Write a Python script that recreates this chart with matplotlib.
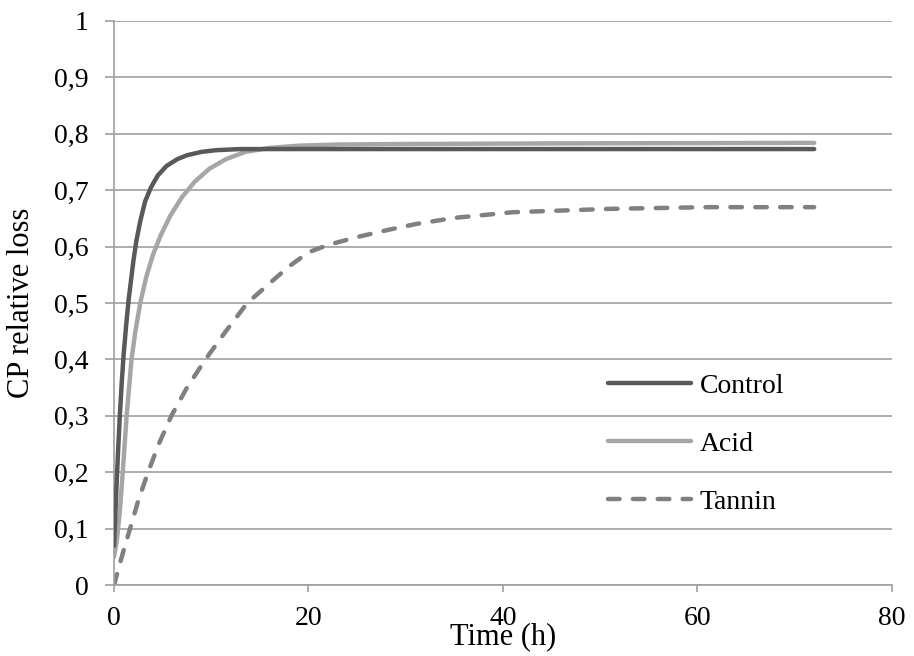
import matplotlib
matplotlib.use("Agg")
import matplotlib.pyplot as plt
from matplotlib.ticker import FuncFormatter, MultipleLocator

plt.rcParams['font.family'] = ['Liberation Serif', 'DejaVu Serif']

# values
control_t = [0, 0.2, 0.4, 0.6, 0.8, 1.0, 1.25, 1.5, 1.75, 2.0, 2.3, 2.7, 3.2, 3.8, 4.5, 5.4, 6.5, 7.5, 9, 10.5, 13, 16, 72]
control_v = [0.07, 0.15, 0.23, 0.3, 0.36, 0.41, 0.46, 0.505, 0.54, 0.575, 0.61, 0.645, 0.68, 0.705, 0.726,
             0.743, 0.755, 0.762, 0.768, 0.771, 0.773, 0.773, 0.773]

acid_t = [0, 0.3, 0.6, 0.9, 1.3, 1.8, 2.2, 2.7, 3.3, 4.0, 4.8, 5.8, 7.0, 8.3, 9.8, 11.5, 13.5, 16, 19, 23, 30, 45, 72]
acid_v = [0.05, 0.08, 0.13, 0.2, 0.3, 0.4, 0.45, 0.5, 0.545, 0.585, 0.62, 0.655, 0.688, 0.715, 0.738, 0.755,
          0.768, 0.775, 0.779, 0.781, 0.782, 0.783, 0.784]

tannin_t = [0, 0.8, 1.65, 2.5, 3.5, 4.6, 5.9, 7.5, 9.4, 11.5, 13.7, 16, 18, 20, 22, 25, 28, 31, 35, 41, 51, 61, 72]
tannin_v = [0, 0.05, 0.1, 0.15, 0.2, 0.25, 0.3, 0.35, 0.4, 0.45, 0.5, 0.535, 0.565, 0.59, 0.603, 0.617, 0.629,
            0.64, 0.651, 0.661, 0.667, 0.67, 0.67]

grid_col = '#a0a0a0'

fig = plt.figure(figsize=(9.14, 6.56), dpi=100)
ax = fig.add_axes([0.1247, 0.108, 0.8512, 0.860])

ax.plot(control_t, control_v, color='#595959', lw=3.2, solid_capstyle='round', label='Control', zorder=3)
ax.plot(acid_t, acid_v, color='#a6a6a6', lw=3.2, solid_capstyle='round', label='Acid', zorder=2)
ax.plot(tannin_t, tannin_v, color='#808080', lw=3.2, dashes=(2.6, 3.0), dash_capstyle='round',
        label='Tannin', zorder=2)

ax.set_xlim(0, 80)
ax.set_ylim(0, 1)
ax.xaxis.set_major_locator(MultipleLocator(20))
ax.yaxis.set_major_locator(MultipleLocator(0.1))
ax.yaxis.set_major_formatter(FuncFormatter(lambda v, p: f"{v:.1f}".rstrip('0').rstrip('.').replace('.', ',')))

ax.grid(axis='y', color=grid_col, lw=1.2)
ax.set_axisbelow(True)
for s in ['top', 'right']:
    ax.spines[s].set_visible(False)
for s in ['left', 'bottom']:
    ax.spines[s].set_color(grid_col)
    ax.spines[s].set_linewidth(1.2)

ax.tick_params(axis='x', direction='out', length=5, width=1.2, color=grid_col, labelsize=20, pad=10)
ax.tick_params(axis='y', direction='out', length=6.5, width=1.2, color=grid_col, labelsize=20, pad=12)

ax.set_xlabel('Time (h)', fontsize=22)
ax.set_ylabel('CP relative loss', fontsize=22)
ax.xaxis.set_label_coords(0.5, -0.066)
ax.yaxis.set_label_coords(-0.100, 0.5)

ax.legend(loc='center left', bbox_to_anchor=(0.635, 0.250), frameon=False, fontsize=20,
          handlelength=3.0, handletextpad=0.3, labelspacing=1.18, borderpad=0, borderaxespad=0)

fig.savefig('out.png', dpi=100)
